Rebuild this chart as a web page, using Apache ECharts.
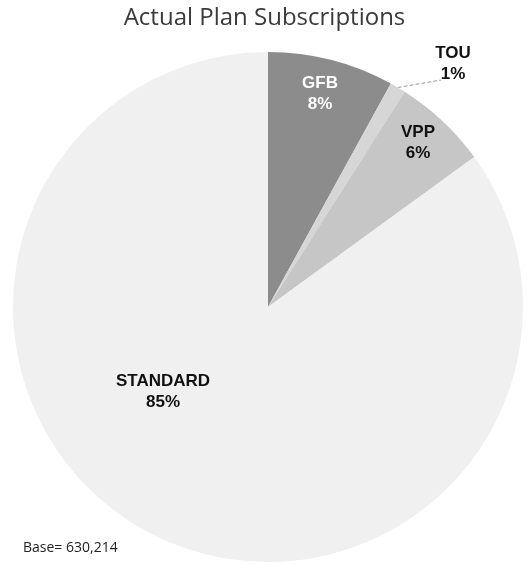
<!DOCTYPE html>
<html>
<head>
<meta charset="utf-8">
<script src="https://cdn.jsdelivr.net/npm/echarts@6/dist/echarts.min.js"></script>
<style>html,body{margin:0;padding:0;background:#fff}#c{width:529px;height:564px}</style>
</head>
<body>
<div id="c"></div>
<script>
var categories = ['GFB', 'TOU', 'VPP', 'STANDARD'];
var shares = [8, 1, 6, 85];
var percentLabels = ['8%', '1%', '6%', '85%'];
var titleText = 'Actual Plan Subscriptions';
var baseText = 'Base= 630,214';

var sliceColors = ['#8c8c8c', '#d6d6d6', '#c6c6c6', '#f0f0f0'];
var labelColors = ['#ffffff', '#111111', '#111111', '#111111'];
var labelAnchors = [[320, 94], [453, 64], [418, 143], [163, 392]];

var chart = echarts.init(document.getElementById('c'));
var data = categories.map(function (c, i) {
  var item = {
    name: c,
    value: shares[i],
    itemStyle: { color: sliceColors[i] },
    label: {
      color: labelColors[i],
      formatter: c + '\n' + percentLabels[i]
    }
  };
  if (c === 'TOU') {
    item.label.position = 'outside';
    item.labelLine = { show: true, length: 4, length2: 40, smooth: false,
      lineStyle: { color: '#999', type: 'dashed', width: 1 } };
  } else {
    item.label.position = 'inside';
  }
  return item;
});

chart.setOption({
  animation: false,
  title: [
    { text: titleText, left: 'center', top: 1,
      textStyle: { fontFamily: 'Open Sans', fontSize: 24, fontWeight: 500, color: '#3a3a3a' } },
    { text: baseText, left: 18, top: 536,
      textStyle: { fontFamily: 'Open Sans', fontSize: 14, fontWeight: 'normal', color: '#222' } }
  ],
  series: [{
    type: 'pie',
    center: [268, 307],
    radius: 255,
    startAngle: 90,
    clockwise: true,
    data: data,
    label: {
      show: true,
      fontFamily: 'Liberation Sans',
      fontWeight: 'bold',
      fontSize: 17,
      lineHeight: 21,
      align: 'center'
    },
    labelLayout: function (p) {
      var a = labelAnchors[p.dataIndex];
      var res = { x: a[0], y: a[1], align: 'center', verticalAlign: 'middle' };
      if (p.labelLinePoints) {
        var s = p.labelLinePoints[0];
        var e = [a[0] - 12, a[1] + 16];
        res.labelLinePoints = [s, [(s[0] + e[0]) / 2, (s[1] + e[1]) / 2], e];
      }
      return res;
    },
    emphasis: { disabled: true }
  }]
});
</script>
</body>
</html>
